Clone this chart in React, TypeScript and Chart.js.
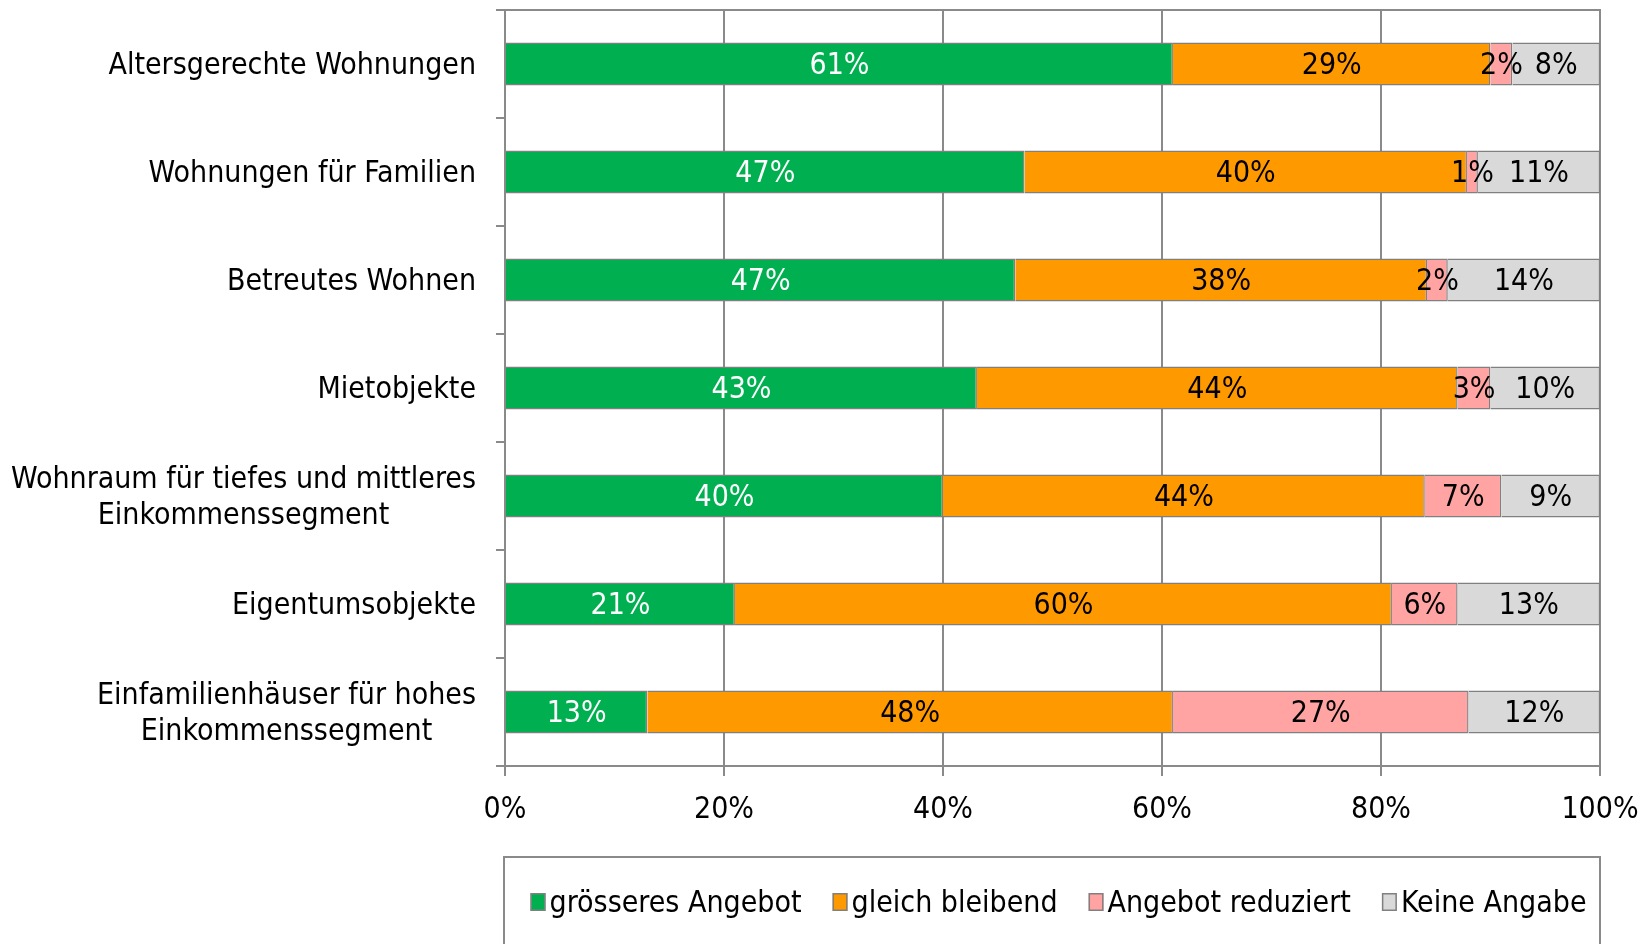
import React, { useEffect, useRef } from "react";
import { Chart, registerables } from "chart.js";

Chart.register(...registerables);

const categories: string[][] = [
  ["Altersgerechte Wohnungen"],
  ["Wohnungen für Familien"],
  ["Betreutes Wohnen"],
  ["Mietobjekte"],
  ["Wohnraum für tiefes und mittleres", "Einkommenssegment"],
  ["Eigentumsobjekte"],
  ["Einfamilienhäuser für hohes", "Einkommenssegment"],
];

const seriesNames = ["grösseres Angebot", "gleich bleibend", "Angebot reduziert", "Keine Angabe"];
const groesseresAngebot = [61.0, 47.45, 46.6, 43.1, 40.0, 21.0, 13.0];
const gleichBleibend = [29.0, 40.4, 37.6, 43.9, 44.0, 60.0, 48.0];
const angebotReduziert = [2.0, 1.0, 1.9, 3.0, 7.0, 6.0, 27.0];
const keineAngabe = [8.0, 11.15, 13.9, 10.0, 9.0, 13.0, 12.0];
const xTickValues = [0, 20, 40, 60, 80, 100];

const seriesColors = ["#00B050", "#FF9900", "#FFA3A3", "#D9D9D9"];
const labelColors = ["#FFFFFF", "#000000", "#000000", "#000000"];

const FONT = '"DejaVu Sans Condensed", "DejaVu Sans", sans-serif';
const FS = 30;
const GRID = "#8A8A8A";

const dataLabelPlugin = {
  id: "dataLabels",
  afterDatasetsDraw(chart: any) {
    const ctx = chart.ctx;
    ctx.save();
    ctx.font = `${FS}px ${FONT}`;
    ctx.textAlign = "center";
    ctx.textBaseline = "middle";
    chart.data.datasets.forEach((ds: any, di: number) => {
      const meta = chart.getDatasetMeta(di);
      meta.data.forEach((el: any, i: number) => {
        const v = ds.data[i];
        const cx = (el.x + el.base) / 2;
        ctx.fillStyle = labelColors[di];
        ctx.fillText(Math.round(v) + "%", cx, el.y + 2);
      });
    });
    ctx.restore();
  },
};

const yLabelPlugin = {
  id: "yLabels",
  afterDraw(chart: any) {
    const ctx = chart.ctx;
    const y = chart.scales.y;
    const right = chart.chartArea.left - 29;
    const lineH = 36.5;
    ctx.save();
    ctx.font = `${FS}px ${FONT}`;
    ctx.fillStyle = "#000";
    ctx.textBaseline = "middle";
    ctx.textAlign = "center";
    categories.forEach((lines, i) => {
      const cy = y.getPixelForTick(i);
      const w = Math.max(...lines.map((l) => ctx.measureText(l).width));
      const cx = right - w / 2;
      const n = lines.length;
      lines.forEach((l, j) => {
        ctx.fillText(l, cx, cy + (j - (n - 1) / 2) * lineH + 2);
      });
    });
    ctx.restore();
  },
};

const legendPlugin = {
  id: "customLegend",
  afterDraw(chart: any) {
    const ctx = chart.ctx;
    const ca = chart.chartArea;
    const boxTop = ca.bottom + 91;
    const cy = boxTop + 45;
    ctx.save();
    ctx.strokeStyle = GRID;
    ctx.lineWidth = 2;
    ctx.strokeRect(ca.left - 1, boxTop, ca.right - ca.left + 1, 200);
    ctx.font = `${FS}px ${FONT}`;
    const mw = 15;
    const mh = 18;
    const gapText = 4;
    const gapItem = 31;
    const widths = seriesNames.map((n) => ctx.measureText(n).width);
    const total = widths.reduce((a, w) => a + mw + gapText + w, 0) + gapItem * (seriesNames.length - 1);
    let x = (ca.left + ca.right) / 2 + 6 - total / 2;
    ctx.textBaseline = "middle";
    ctx.textAlign = "left";
    seriesNames.forEach((n, i) => {
      ctx.fillStyle = seriesColors[i];
      ctx.fillRect(x, cy - mh / 2, mw, mh);
      ctx.strokeStyle = "#808080";
      ctx.lineWidth = 1.5;
      ctx.strokeRect(x + 0.75, cy - mh / 2 + 0.75, mw - 1.5, mh - 1.5);
      ctx.fillStyle = "#000";
      ctx.fillText(n, x + mw + gapText, cy + 2);
      x += mw + gapText + widths[i] + gapItem;
    });
    ctx.restore();
  },
};

export default function App() {
  const ref = useRef<HTMLCanvasElement | null>(null);
  useEffect(() => {
    if (!ref.current) return;
    const seriesValues = [groesseresAngebot, gleichBleibend, angebotReduziert, keineAngabe];
    const chart = new Chart(ref.current, {
      type: "bar",
      data: {
        labels: categories,
        datasets: seriesNames.map((name, i) => ({
          label: name,
          data: seriesValues[i],
          backgroundColor: seriesColors[i],
          borderColor: "#808080",
          borderWidth: 1.5,
          barPercentage: 0.4,
          categoryPercentage: 1,
        })),
      },
      options: {
        indexAxis: "y",
        responsive: false,
        animation: false,
        layout: { padding: { top: 10, right: 43, bottom: 0, left: 0 } },
        scales: {
          x: {
            type: "linear",
            stacked: true,
            min: 0,
            max: 100,
            position: "bottom",
            afterBuildTicks: (s: any) => {
              s.ticks = xTickValues.map((v) => ({ value: v }));
            },
            ticks: {
              callback: (v: any) => v + "%",
              font: { family: FONT, size: FS },
              color: "#000",
              padding: 16,
              maxRotation: 0,
              autoSkip: false,
            },
            grid: { color: GRID, lineWidth: 2, drawTicks: true, tickLength: 10, tickColor: GRID },
            border: { color: GRID, width: 2 },
            afterFit: (s: any) => {
              s.height = 178;
              s.paddingLeft = 0;
              s.paddingRight = 0;
            },
          },
          x2: {
            type: "linear",
            position: "top",
            min: 0,
            max: 100,
            ticks: { display: false },
            grid: { display: false, drawTicks: false },
            border: { display: true, color: GRID, width: 2 },
            afterFit: (s: any) => {
              s.height = 0;
              s.paddingLeft = 0;
              s.paddingRight = 0;
            },
          },
          y: {
            type: "category",
            stacked: true,
            ticks: { display: false },
            grid: {
              offset: true,
              drawOnChartArea: false,
              drawTicks: true,
              tickLength: 9,
              color: GRID,
              lineWidth: 2,
            },
            border: { color: GRID, width: 2 },
            afterFit: (s: any) => {
              s.width = 505;
              s.paddingTop = 0;
              s.paddingBottom = 0;
            },
          },
        },
        plugins: {
          legend: { display: false },
          tooltip: { enabled: false },
        },
      },
      plugins: [dataLabelPlugin, yLabelPlugin, legendPlugin],
    } as any);
    return () => chart.destroy();
  }, []);
  return (
    <div style={{ position: "absolute", left: 0, top: 0, width: 1643, height: 944, background: "#fff" }}>
      <canvas ref={ref} width={1643} height={944} style={{ display: "block" }} />
    </div>
  );
}
